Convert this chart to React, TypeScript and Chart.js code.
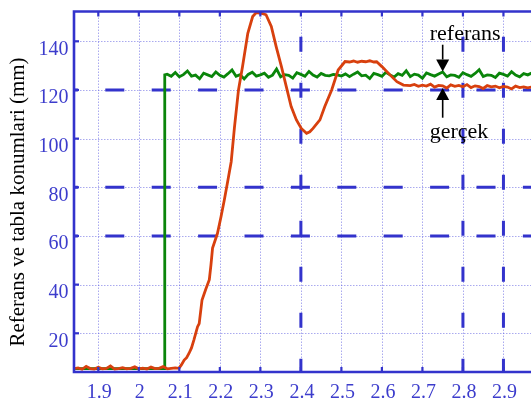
import { useEffect, useRef } from "react";
import { Chart, registerables } from "chart.js";

Chart.register(...registerables);

// ---- axis ticks ----
const xTickValues = [1.9, 2, 2.1, 2.2, 2.3, 2.4, 2.5, 2.6, 2.7, 2.8, 2.9];
const xTickLabels = ["1.9", "2", "2.1", "2.2", "2.3", "2.4", "2.5", "2.6", "2.7", "2.8", "2.9"];
const yTickValues = [20, 40, 60, 80, 100, 120, 140];
const yTickLabels = ["20", "40", "60", "80", "100", "120", "140"];
const dashedRows = [60, 80, 120];
const dashedCols = [2.4, 2.8, 2.9];

const xMin = 1.84;
const xMax = 2.968;
const yMin = 4.09;
const yMax = 152.25;

const yTitle = "Referans ve tabla konumlari (mm)";
const labelReferans = "referans";
const labelGercek = "gerçek";

// ---- series: referans (green) ----
const referansX = [
  1.84, 2.064, 2.064,
  2.07, 2.08, 2.09, 2.1, 2.11, 2.12, 2.13, 2.14, 2.15, 2.16,
  2.17, 2.18, 2.19, 2.2, 2.21, 2.22, 2.23, 2.24, 2.25, 2.26,
  2.27, 2.28, 2.29, 2.3, 2.31, 2.32, 2.33, 2.34, 2.35, 2.36,
  2.37, 2.38, 2.39, 2.4, 2.41, 2.42, 2.43, 2.44, 2.45, 2.46,
  2.47, 2.48, 2.49, 2.5, 2.51, 2.52, 2.53, 2.54, 2.55, 2.56,
  2.57, 2.58, 2.59, 2.6, 2.61, 2.62, 2.63, 2.64, 2.65, 2.66,
  2.67, 2.68, 2.69, 2.7, 2.71, 2.72, 2.73, 2.74, 2.75, 2.76,
  2.77, 2.78, 2.79, 2.8, 2.81, 2.82, 2.83, 2.84, 2.85, 2.86,
  2.87, 2.88, 2.89, 2.9, 2.91, 2.92, 2.93, 2.94, 2.95, 2.96,
  2.97,
];
const referansY = [
  5.5, 5.5, 126.2,
  126.5, 125.6, 127.2, 125.4, 126.3, 127.8, 125.7, 126.1, 124.6, 126.9,
  126.2, 125.5, 127.4, 126.0, 125.3, 126.7, 128.2, 125.6, 126.3, 124.5,
  126.4, 127.3, 125.7, 126.2, 126.9, 125.2, 126.1, 128.6, 125.4, 126.3,
  126.0, 124.9, 127.1, 126.4, 125.6, 127.6, 126.1, 125.3, 126.8, 126.0,
  125.8, 126.4, 126.2, 125.7, 126.6, 125.5, 126.5, 127.4, 125.8, 126.1,
  124.7, 126.8, 126.3, 125.6, 127.3, 126.2, 125.3, 126.7, 126.0, 127.9,
  125.5, 126.5, 126.1, 124.8, 127.0, 126.3, 125.7, 126.6, 127.4, 125.4,
  126.2, 126.0, 125.2, 127.1, 126.3, 125.6, 126.8, 128.3, 125.5, 126.2,
  126.0, 125.1, 126.9, 126.4, 125.7, 127.5, 126.1, 125.4, 126.7, 126.2,
  127.0,
];

// ---- series: gercek (red) ----
const gercekX = [
  1.84, 1.85, 1.86, 1.87, 1.88, 1.89, 1.9, 1.91, 1.92, 1.93,
  1.94, 1.95, 1.96, 1.97, 1.98, 1.99, 2.0, 2.01, 2.02, 2.03,
  2.04, 2.05, 2.06, 2.07, 2.08, 2.09,
  2.099, 2.105, 2.112, 2.118, 2.124, 2.13, 2.136, 2.145, 2.149, 2.156,
  2.165, 2.174, 2.178, 2.182, 2.194, 2.203, 2.211, 2.22, 2.228, 2.236,
  2.246, 2.256, 2.269, 2.281, 2.29, 2.298, 2.306, 2.314, 2.327, 2.339,
  2.352, 2.364, 2.376, 2.389, 2.401, 2.414, 2.422, 2.43, 2.447, 2.459,
  2.476, 2.492, 2.509, 2.52, 2.53, 2.54, 2.55, 2.56, 2.57, 2.58,
  2.587, 2.6, 2.62, 2.637, 2.653,
  2.67, 2.68, 2.69, 2.7, 2.71, 2.72, 2.73, 2.74, 2.75, 2.76,
  2.77, 2.78, 2.79, 2.8, 2.81, 2.82, 2.83, 2.84, 2.85, 2.86,
  2.87, 2.88, 2.89, 2.9, 2.91, 2.92, 2.93, 2.94, 2.95, 2.96,
  2.97,
];
const gercekY = [
  5.5, 5.8, 5.2, 6.4, 5.5, 5.3, 6.0, 5.4, 5.6, 6.6,
  5.3, 5.5, 5.9, 5.4, 5.6, 6.2, 5.4, 5.7, 5.3, 6.1,
  5.5, 5.6, 6.3, 5.4, 5.6, 5.8,
  5.6, 7.0, 9.0, 10.0, 11.8, 14.0, 17.3, 22.7, 24.0, 33.7,
  38.0, 42.0, 48.0, 55.0, 61.0, 68.0, 74.8, 83.0, 90.5, 104.5,
  120.0, 129.6, 143.3, 150.2, 151.8, 151.6, 151.4, 150.9, 146.1, 137.8,
  129.6, 121.4, 113.2, 107.7, 104.2, 102.2, 102.8, 104.2, 107.7, 113.2,
  120.0, 128.2, 131.7, 131.5, 131.9, 131.4, 131.8, 131.6, 132.0, 131.5,
  131.6, 129.6, 126.2, 123.4, 122.0,
  121.8, 122.3, 121.5, 122.0, 121.6, 122.4, 121.2, 121.9, 121.7, 120.8,
  122.1, 121.5, 121.9, 121.3, 122.2, 121.0, 121.7, 121.4, 120.6, 121.8,
  121.3, 121.6, 120.9, 121.5, 121.2, 120.4, 121.6, 121.0, 121.3, 120.9,
  121.2,
];

// ---- annotation anchors (data coordinates) ----
const arrowX = 2.75;
const upArrow = { from: 138.6, tip: 127.6 };
const downArrow = { from: 108.6, tip: 120.8 };
const referansLabelPos = { x: 2.718, y: 140.5 };
const gercekLabelPos = { x: 2.718, y: 100.1 };

const AXIS = "#3333cc";
const TICK_TEXT = "#3c3ccc";
const GRID = "rgba(100,100,225,0.55)";
const GREEN = "#0a850a";
const RED = "#d8400e";
const SERIF = "'Liberation Serif', 'Times New Roman', serif";

const decorPlugin = {
  id: "decor",
  beforeDatasetsDraw(chart: any) {
    const { ctx, chartArea: a, scales } = chart;
    const x = scales.x;
    const y = scales.y;
    ctx.save();
    // dotted grid
    ctx.strokeStyle = GRID;
    ctx.lineWidth = 1;
    ctx.setLineDash([1.5, 1.5]);
    xTickValues.forEach((v) => {
      const px = Math.round(x.getPixelForValue(v)) + 0.5;
      ctx.beginPath();
      ctx.moveTo(px, a.top);
      ctx.lineTo(px, a.bottom);
      ctx.stroke();
    });
    yTickValues.forEach((v) => {
      const py = Math.round(y.getPixelForValue(v)) + 0.5;
      ctx.beginPath();
      ctx.moveTo(a.left, py);
      ctx.lineTo(a.right, py);
      ctx.stroke();
    });
    // thick dashed rows/cols
    ctx.strokeStyle = AXIS;
    ctx.lineWidth = 3;
    ctx.setLineDash([19, 27.4]);
    ctx.lineDashOffset = 15.1;
    dashedRows.forEach((v) => {
      const py = y.getPixelForValue(v);
      ctx.beginPath();
      ctx.moveTo(a.left, py);
      ctx.lineTo(a.right, py);
      ctx.stroke();
    });
    ctx.setLineDash([15, 31]);
    ctx.lineDashOffset = 20.8;
    dashedCols.forEach((v) => {
      const px = x.getPixelForValue(v);
      ctx.beginPath();
      ctx.moveTo(px, a.top);
      ctx.lineTo(px, a.bottom);
      ctx.stroke();
    });
    ctx.restore();
  },
  afterDatasetsDraw(chart: any) {
    const { ctx, chartArea: a, scales } = chart;
    const x = scales.x;
    const y = scales.y;
    ctx.save();
    // frame
    ctx.strokeStyle = AXIS;
    ctx.lineWidth = 2.6;
    ctx.setLineDash([]);
    ctx.beginPath();
    ctx.moveTo(a.right + 2, a.top);
    ctx.lineTo(a.left, a.top);
    ctx.lineTo(a.left, a.bottom);
    ctx.lineTo(a.right + 2, a.bottom);
    ctx.stroke();
    // tick marks
    ctx.lineWidth = 2.2;
    xTickValues.forEach((v) => {
      const px = x.getPixelForValue(v);
      ctx.beginPath();
      ctx.moveTo(px, a.top);
      ctx.lineTo(px, a.top + 5);
      ctx.moveTo(px, a.bottom);
      ctx.lineTo(px, a.bottom - 5);
      ctx.stroke();
    });
    yTickValues.forEach((v) => {
      const py = y.getPixelForValue(v);
      ctx.beginPath();
      ctx.moveTo(a.left, py);
      ctx.lineTo(a.left + 5, py);
      ctx.stroke();
    });
    // y title
    ctx.fillStyle = "#000";
    ctx.font = `21px ${SERIF}`;
    ctx.textAlign = "center";
    ctx.textBaseline = "middle";
    ctx.save();
    ctx.translate(18, 202);
    ctx.rotate(-Math.PI / 2);
    ctx.fillText(yTitle, 0, 0);
    ctx.restore();
    // annotations
    ctx.font = `22px ${SERIF}`;
    ctx.textAlign = "left";
    ctx.textBaseline = "alphabetic";
    ctx.fillText(labelReferans, x.getPixelForValue(referansLabelPos.x), y.getPixelForValue(referansLabelPos.y));
    ctx.fillText(labelGercek, x.getPixelForValue(gercekLabelPos.x), y.getPixelForValue(gercekLabelPos.y));
    const ax = x.getPixelForValue(arrowX);
    const drawArrow = (fromV: number, tipV: number) => {
      const fy = y.getPixelForValue(fromV);
      const ty = y.getPixelForValue(tipV);
      const dir = ty > fy ? 1 : -1;
      const baseY = ty - dir * 12;
      ctx.strokeStyle = "#000";
      ctx.lineWidth = 1.6;
      ctx.beginPath();
      ctx.moveTo(ax, fy);
      ctx.lineTo(ax, baseY);
      ctx.stroke();
      ctx.fillStyle = "#000";
      ctx.beginPath();
      ctx.moveTo(ax - 6.5, baseY);
      ctx.lineTo(ax + 6.5, baseY);
      ctx.lineTo(ax, ty);
      ctx.closePath();
      ctx.fill();
    };
    drawArrow(upArrow.from, upArrow.tip);
    drawArrow(downArrow.from, downArrow.tip);
    ctx.restore();
  },
};

export default function App() {
  const ref = useRef<HTMLCanvasElement | null>(null);
  useEffect(() => {
    if (!ref.current) return;
    const chart = new Chart(ref.current, {
      type: "line",
      data: {
        datasets: [
          {
            label: "gercek",
            data: gercekX.map((v, i) => ({ x: v, y: gercekY[i] })),
            borderColor: RED,
            borderWidth: 2.8,
            pointRadius: 0,
            tension: 0,
            fill: false,
          },
          {
            label: "referans",
            data: referansX.map((v, i) => ({ x: v, y: referansY[i] })),
            borderColor: GREEN,
            borderWidth: 2.8,
            pointRadius: 0,
            tension: 0,
            fill: false,
          },
        ],
      },
      options: {
        responsive: false,
        animation: false,
        devicePixelRatio: 1,
        events: [],
        layout: { padding: { left: 0, top: 11.5, right: 0, bottom: 0 } },
        plugins: { legend: { display: false }, tooltip: { enabled: false } },
        scales: {
          x: {
            type: "linear",
            min: xMin,
            max: xMax,
            grid: { display: false, drawTicks: false },
            border: { display: false },
            afterBuildTicks: (s: any) => {
              s.ticks = xTickValues.map((v) => ({ value: v }));
            },
            afterFit: (s: any) => {
              s.height = 35;
              s.paddingLeft = 0;
              s.paddingRight = 0;
            },
            ticks: {
              autoSkip: false,
              maxRotation: 0,
              padding: 9,
              labelOffset: 1,
              color: TICK_TEXT,
              font: { family: SERIF, size: 20 },
              callback: (v: any) => xTickLabels[xTickValues.indexOf(Number(v))] ?? "",
            },
          },
          y: {
            type: "linear",
            min: yMin,
            max: yMax,
            grid: { display: false, drawTicks: false },
            border: { display: false },
            afterBuildTicks: (s: any) => {
              s.ticks = yTickValues.map((v) => ({ value: v }));
            },
            afterFit: (s: any) => {
              s.width = 74;
              s.paddingTop = 0;
              s.paddingBottom = 0;
            },
            ticks: {
              autoSkip: false,
              padding: 5.5,
              labelOffset: 8,
              color: TICK_TEXT,
              font: { family: SERIF, size: 20 },
              callback: (v: any) => yTickLabels[yTickValues.indexOf(Number(v))] ?? "",
            },
          },
        },
      },
      plugins: [decorPlugin],
    } as any);
    return () => chart.destroy();
  }, []);
  return (
    <div style={{ position: "absolute", left: 0, top: 0, width: 531, height: 407, background: "#fff" }}>
      <canvas ref={ref} width={531} height={407} />
    </div>
  );
}
